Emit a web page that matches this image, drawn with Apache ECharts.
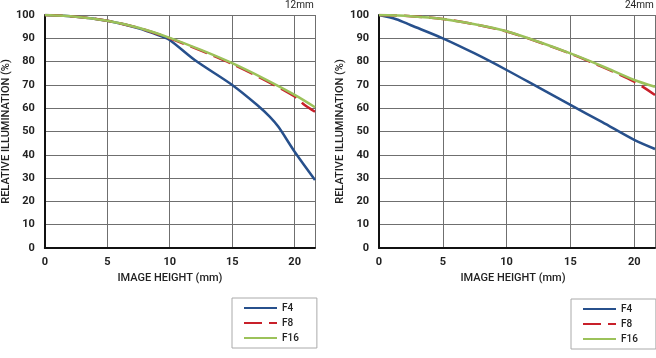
<!DOCTYPE html>
<html><head><meta charset="utf-8">
<script src="https://cdn.jsdelivr.net/npm/echarts@6/dist/echarts.min.js"></script>
<style>html,body{margin:0;padding:0;background:#fff}#c{width:656px;height:358px}</style>
</head><body><div id="c"></div>
<script>
// ---- data ----
const xTicks = [0, 5, 10, 15, 20];
const yTicks = [0, 10, 20, 30, 40, 50, 60, 70, 80, 90, 100];
const xMax = 21.63;

// 12mm
const x12F4  = [0, 2.5, 5, 7.5, 9.4, 10, 12, 15, 17, 18, 18.7, 20, 21.63];
const y12F4  = [100, 99.3, 97.5, 94.3, 90.7, 89.3, 80.7, 70.0, 61.4, 56.4, 52.0, 41.3, 29.2];
const x12F8  = [0, 2.5, 5, 7.5, 10, 12.5, 15, 17.5, 20, 20.8, 21.63];
const y12F8  = [100, 99.3, 97.5, 94.5, 90.0, 84.7, 79.0, 72.4, 65.0, 61.4, 58.5];
const x12F16 = [0, 2.5, 5, 7.5, 10, 12.5, 15, 17.5, 20, 21.63];
const y12F16 = [100, 99.3, 97.5, 94.5, 90.2, 85.0, 79.3, 72.8, 65.7, 60.4];

// 24mm
const x24F4  = [0, 1.35, 2.5, 5, 7.5, 10, 12.5, 15, 17.5, 20, 21.63];
const y24F4  = [100, 98.2, 95.6, 90.0, 83.5, 76.4, 68.9, 61.4, 54.0, 46.4, 42.5];
const x24F8  = [0, 2.5, 5, 7.5, 10, 12.5, 15, 17.5, 20, 21.63];
const y24F8  = [100, 99.5, 98.3, 96.0, 92.9, 88.4, 83.4, 77.7, 71.4, 65.7];
const x24F16 = [0, 2.5, 5, 7.5, 10, 12.5, 15, 17.5, 20, 21.63];
const y24F16 = [100, 99.5, 98.3, 96.0, 93.0, 88.5, 83.5, 78.0, 72.1, 69.2];

const seriesNames = ['F4', 'F8', 'F16'];
const titles = ['12mm', '24mm'];
const xName = 'IMAGE HEIGHT (mm)';
const yName = 'RELATIVE ILLUMINATION (%)';

// ---- styles ----
const colors = {F4: '#27508c', F8: '#c8202a', F16: '#9cc25a'};
const dashes = {F4: 'solid', F8: [18, 7], F16: 'solid'};
const font = 'Roboto, "Liberation Sans", sans-serif';

function pairs(xs, ys) { return xs.map((x, i) => [x, ys[i]]); }

const chart = echarts.init(document.getElementById('c'), null, {renderer: 'canvas'});

const nameStyle = {fontFamily: font, fontSize: 11, fontWeight: 500, color: '#222'};
const tickStyle = {fontFamily: font, fontSize: 11, fontWeight: 'bold', color: '#222'};

function xAxis(gi, shift) {
  return {
    type: 'value', gridIndex: gi, min: 0, max: xMax, interval: 5,
    name: xName, nameLocation: 'middle', nameGap: 23,
    nameTextStyle: Object.assign({padding: [0, shift, 0, 0]}, nameStyle),
    axisLine: {show: true, lineStyle: {color: '#111', width: 2}},
    axisTick: {show: false},
    axisLabel: Object.assign({showMaxLabel: false, margin: 9,
      formatter: v => xTicks.includes(v) ? String(v) : ''}, tickStyle),
    splitLine: {show: true, lineStyle: {color: '#6f6f6f', width: 1}}
  };
}
function yAxis(gi, gap) {
  return {
    type: 'value', gridIndex: gi, min: 0, max: 100, interval: 10,
    name: yName, nameLocation: 'middle', nameGap: gap, nameRotate: 90,
    nameTextStyle: nameStyle,
    axisLine: {show: true, lineStyle: {color: '#111', width: 2}},
    axisTick: {show: false},
    axisLabel: Object.assign({margin: 10,
      formatter: v => yTicks.includes(v) ? String(v) : ''}, tickStyle),
    splitLine: {show: true, lineStyle: {color: '#6f6f6f', width: 1}}
  };
}
function line(name, gi, data) {
  return {
    name, type: 'line', xAxisIndex: gi, yAxisIndex: gi, data, smooth: 0.3,
    symbol: 'none', z: name === 'F16' ? 4 : (name === 'F8' ? 3 : 2),
    lineStyle: {color: colors[name], width: 2.5, type: dashes[name]},
    itemStyle: {color: colors[name]}
  };
}
function legend(left, top) {
  return {
    data: seriesNames, orient: 'vertical', left, top,
    itemWidth: 33, itemHeight: 10, itemGap: 5,
    padding: [5, 18, 5, 11],
    borderColor: '#aaa', borderWidth: 1,
    itemStyle: {opacity: 0},
    textStyle: {fontFamily: font, fontSize: 10, fontWeight: 500, color: '#222'},
    selectedMode: false
  };
}

chart.setOption({
  animation: false,
  title: [
    {text: titles[0], left: 285, top: 0, padding: 0, textStyle: {fontFamily: font, fontSize: 10, fontWeight: 'normal', color: '#222'}},
    {text: titles[1], left: 625, top: 0, padding: 0, textStyle: {fontFamily: font, fontSize: 10, fontWeight: 'normal', color: '#222'}}
  ],
  grid: [
    {left: 41, top: 15, width: 274, height: 233},
    {left: 379, top: 15, width: 276, height: 233}
  ],
  xAxis: [xAxis(0, 20), xAxis(1, 8)],
  yAxis: [yAxis(0, 27), yAxis(1, 29)],
  legend: [legend(232, 298), legend(571, 299)],
  series: [
    line('F4', 0, pairs(x12F4, y12F4)),
    line('F8', 0, pairs(x12F8, y12F8)),
    line('F16', 0, pairs(x12F16, y12F16)),
    line('F4', 1, pairs(x24F4, y24F4)),
    line('F8', 1, pairs(x24F8, y24F8)),
    line('F16', 1, pairs(x24F16, y24F16))
  ]
});
</script></body></html>
